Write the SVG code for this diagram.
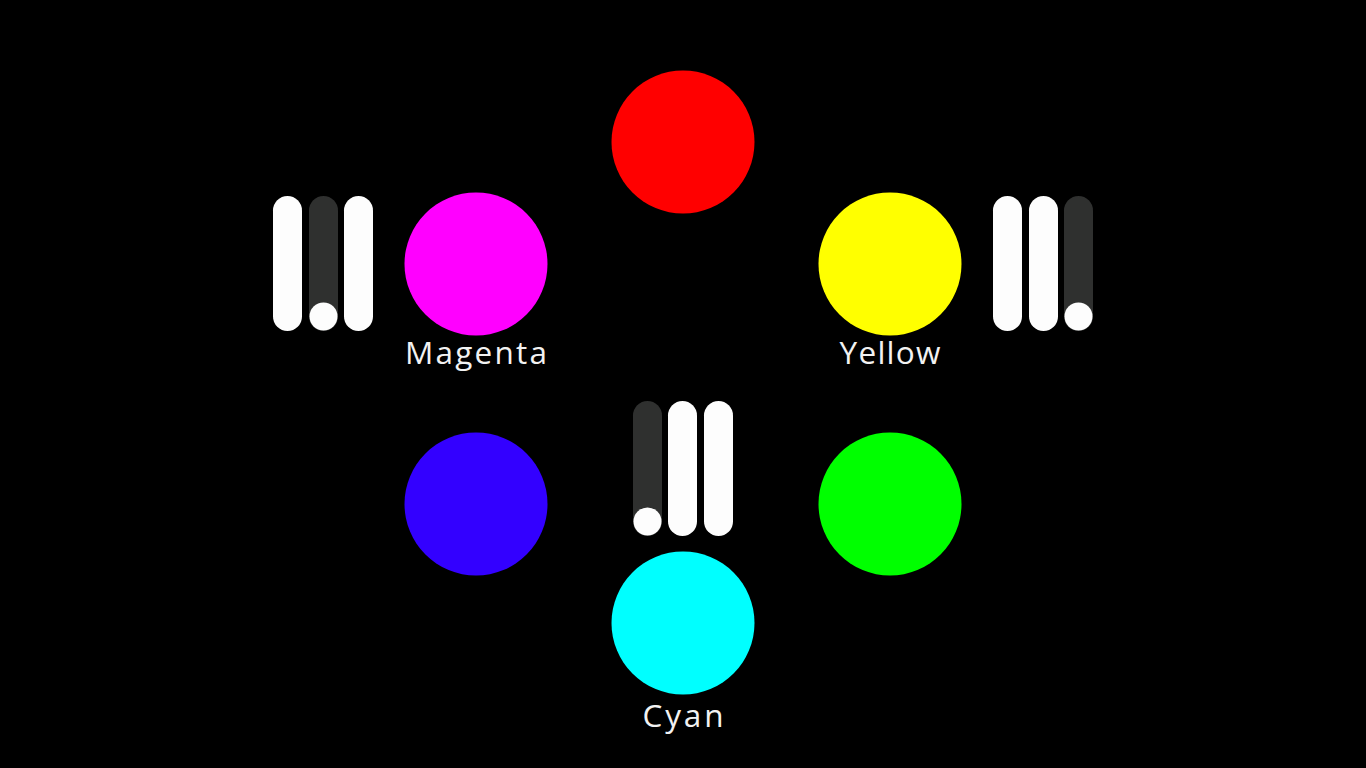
<svg xmlns="http://www.w3.org/2000/svg" width="1366" height="768" viewBox="0 0 1366 768">
<style>
.bg{fill:#000}
.on{fill:#fdfdfd}
.off{fill:#2f302f}
.knob{fill:#fdfdfd}
.lbl{font-family:"Open Sans","Noto Sans",sans-serif;font-size:31.5px;fill:#f2f2f2;text-anchor:middle}
</style>
<rect class="bg" x="0" y="0" width="1366" height="768"/>
<g id="red"><circle cx="683" cy="142" r="71.5" fill="#ff0000"/></g>
<g id="magenta">
<circle cx="476" cy="264" r="71.5" fill="#ff00ff"/>
<text class="lbl" x="476" y="364" textLength="142" lengthAdjust="spacing">Magenta</text>
</g>
<g id="magenta-sliders">
<rect class="on" x="273" y="196" width="29" height="135" rx="14.5"/>
<rect class="off" x="309" y="196" width="29" height="135" rx="14.5"/>
<circle class="knob" cx="323.5" cy="316.5" r="14"/>
<rect class="on" x="344" y="196" width="29" height="135" rx="14.5"/>
</g>
<g id="yellow">
<circle cx="890" cy="264" r="71.5" fill="#ffff00"/>
<text class="lbl" x="890" y="364" textLength="101" lengthAdjust="spacing">Yellow</text>
</g>
<g id="yellow-sliders">
<rect class="on" x="993" y="196" width="29" height="135" rx="14.5"/>
<rect class="on" x="1029" y="196" width="29" height="135" rx="14.5"/>
<rect class="off" x="1064" y="196" width="29" height="135" rx="14.5"/>
<circle class="knob" cx="1078.5" cy="316.5" r="14"/>
</g>
<g id="blue"><circle cx="476" cy="504" r="71.5" fill="#3300ff"/></g>
<g id="green"><circle cx="890" cy="504" r="71.5" fill="#00ff00"/></g>
<g id="cyan">
<circle cx="683" cy="623" r="71.5" fill="#00ffff"/>
<text class="lbl" x="683" y="727" textLength="81" lengthAdjust="spacing">Cyan</text>
</g>
<g id="cyan-sliders">
<rect class="off" x="633" y="401" width="29" height="135" rx="14.5"/>
<circle class="knob" cx="647.5" cy="521.5" r="14"/>
<rect class="on" x="668" y="401" width="29" height="135" rx="14.5"/>
<rect class="on" x="704" y="401" width="29" height="135" rx="14.5"/>
</g>
<g id="connectors"></g>
</svg>
